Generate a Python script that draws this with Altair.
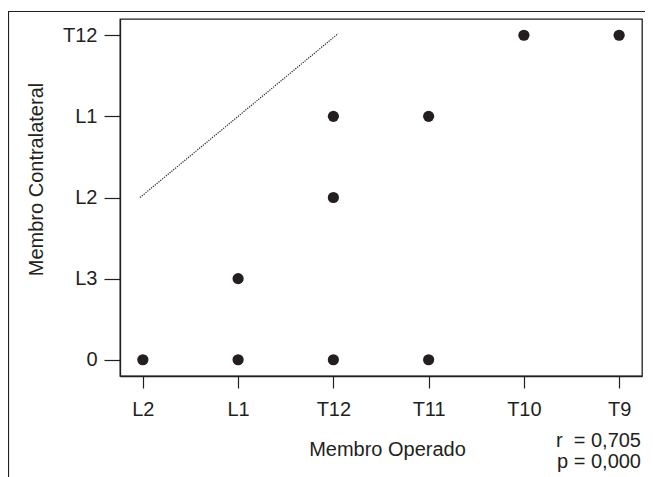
import json
import altair as alt
import pandas as pd

# categories
x_cat = ["L2", "L1", "T12", "T11", "T10", "T9"]
y_cat = ["0", "L3", "L2", "L1", "T12"]

# observations (Membro Operado vs Membro Contralateral)
operado = ["L2", "L1", "T12", "T11", "L1", "T12", "T12", "T11", "T10", "T9"]
contralateral = ["0", "0", "0", "0", "L3", "L2", "L1", "L1", "T12", "T12"]

# dotted reference line (in category-index units)
line_x = [-0.03, 2.05]
line_y = [2.0, 4.02]

stats_r = "r\u00a0\u00a0= 0,705"
stats_p = "p = 0,000"

INK = "#231f20"
FONT = "Liberation Sans"
FS = 20

df = pd.DataFrame({
    "x": [x_cat.index(v) for v in operado],
    "y": [y_cat.index(v) for v in contralateral],
})
line_df = pd.DataFrame({"x": line_x, "y": line_y})

x_scale = alt.Scale(domain=[-0.24, 5.24], nice=False, zero=False)
y_scale = alt.Scale(domain=[-0.2, 4.2], nice=False, zero=False)

x_axis = alt.Axis(
    values=list(range(len(x_cat))),
    labelExpr=f"{json.dumps(x_cat)}[datum.value]",
    title="Membro Operado",
    grid=False, tickSize=12, labelPadding=11, titlePadding=20,
    titleX=267,
)
y_axis = alt.Axis(
    values=list(range(len(y_cat))),
    labelExpr=f"{json.dumps(y_cat)}[datum.value]",
    title="Membro Contralateral",
    grid=False, tickSize=16, labelPadding=7, titlePadding=16,
    titleY=160,
)

points = alt.Chart(df).mark_circle(size=125, color=INK, opacity=1).encode(
    x=alt.X("x:Q", scale=x_scale, axis=x_axis),
    y=alt.Y("y:Q", scale=y_scale, axis=y_axis),
)

line = alt.Chart(line_df).mark_line(
    color=INK, strokeDash=[1.2, 1.2], strokeWidth=1.2
).encode(x=alt.X("x:Q", scale=x_scale), y=alt.Y("y:Q", scale=y_scale))

dummy = pd.DataFrame({"a": [0]})
frame_top = alt.Chart(dummy).mark_rule(color=INK, strokeWidth=1.2).encode(
    x=alt.value(-112), x2=alt.value(540), y=alt.value(-7.5)
)
frame_left = alt.Chart(dummy).mark_rule(color=INK, strokeWidth=1.2).encode(
    x=alt.value(-111.5), y=alt.value(-8), y2=alt.value(470)
)

txt_r = alt.Chart(dummy).mark_text(
    align="right", baseline="middle", font=FONT, fontSize=FS, color=INK
).encode(x=alt.value(521), y=alt.value(422), text=alt.value(stats_r))
txt_p = alt.Chart(dummy).mark_text(
    align="right", baseline="middle", font=FONT, fontSize=FS, color=INK
).encode(x=alt.value(521), y=alt.value(443), text=alt.value(stats_p))

chart = alt.layer(line, points, frame_top, frame_left, txt_r, txt_p).properties(
    width=522, height=357,
    padding={"left": 112, "top": 11, "right": 3, "bottom": 101},
    autosize=alt.AutoSizeParams(type="none"),
).configure_view(
    stroke=INK, strokeWidth=1.3
).configure_axis(
    domainColor=INK, domainWidth=1.3, tickColor=INK, tickWidth=1.2,
    labelFont=FONT, labelFontSize=FS, labelColor=INK,
    titleFont=FONT, titleFontSize=FS, titleColor=INK, titleFontWeight="normal",
)

chart.save("out.html", embed_options={"renderer": "svg", "actions": False})
